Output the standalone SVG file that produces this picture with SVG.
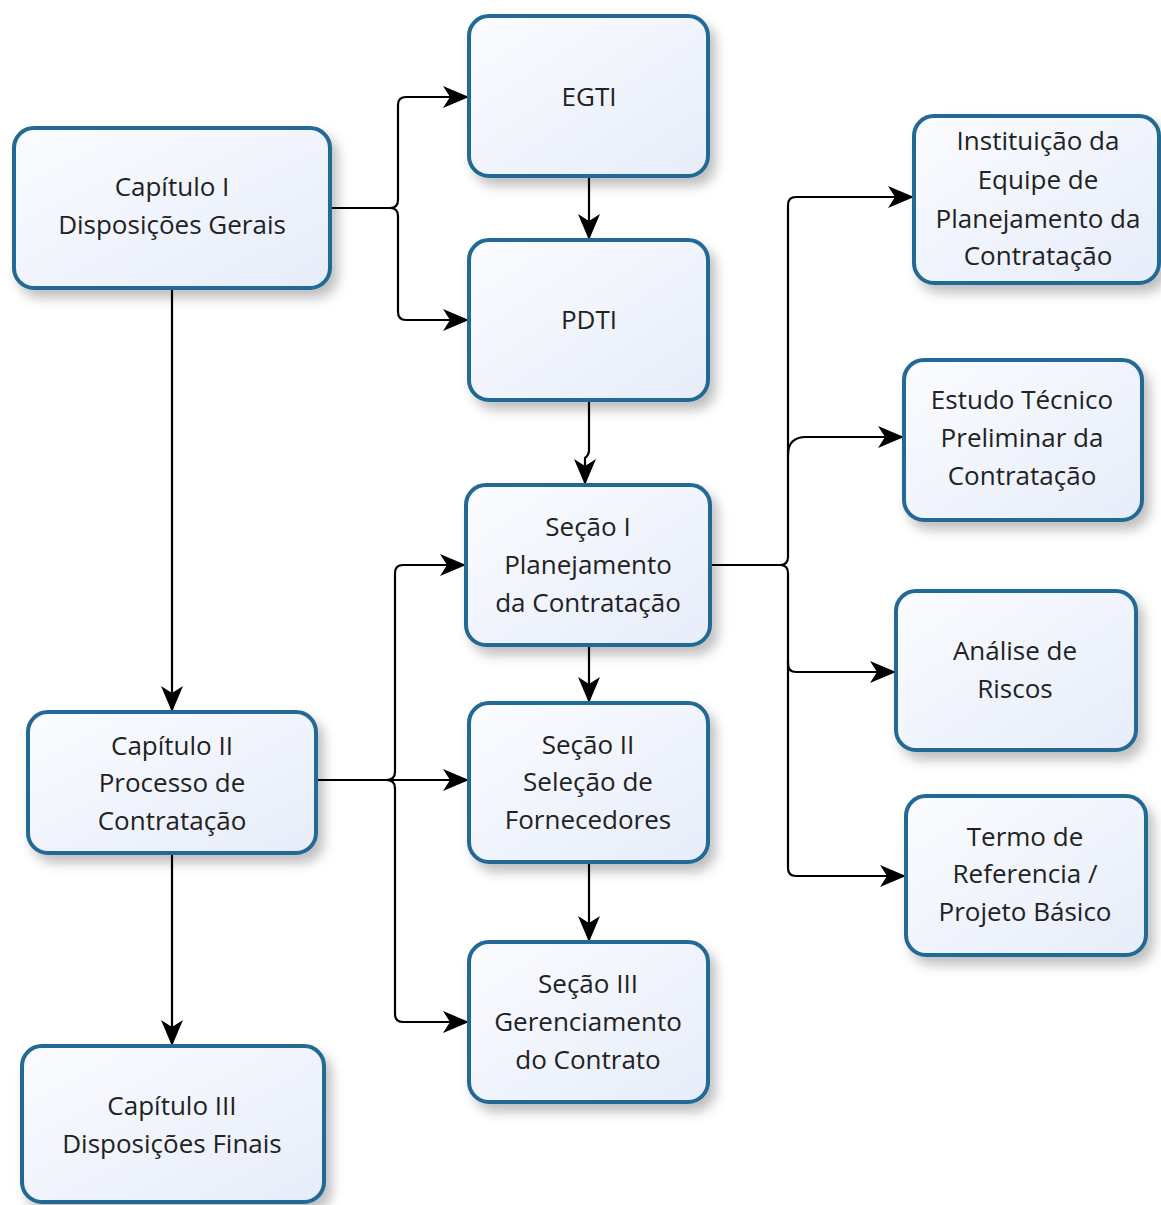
<svg xmlns="http://www.w3.org/2000/svg" width="1161" height="1205" viewBox="0 0 1161 1205">
<defs>
<linearGradient id="g" x1="0" y1="0" x2="1" y2="1">
<stop offset="0" stop-color="#fbfcff"/>
<stop offset="1" stop-color="#e6ecf9"/>
</linearGradient>
<filter id="sh" x="-10%" y="-10%" width="130%" height="140%">
<feDropShadow dx="6" dy="8" stdDeviation="6" flood-color="#000" flood-opacity="0.25"/>
</filter>
<marker id="ar" viewBox="0 0 26 22" refX="25" refY="11" markerWidth="26" markerHeight="22" markerUnits="userSpaceOnUse" orient="auto">
<path d="M0,0 L26,11 L0,22 L7,11 Z" fill="#000"/>
</marker>
</defs>
<style>
.n rect{fill:url(#g);stroke:#236a93;stroke-width:4;filter:url(#sh)}
.n text{font-family:"Open Sans","Noto Sans",sans-serif;font-size:26px;fill:#222;text-anchor:middle}
.c path{fill:none;stroke:#000;stroke-width:2.2}
.c .a{marker-end:url(#ar)}
</style>
<rect width="1161" height="1205" fill="#fff"/>
<g class="c">
<path d="M330,208 H390 Q398,208 398,200 V105 Q398,97 406,97 H468" class="a"/>
<path d="M390,208 Q398,208 398,216 V312 Q398,320 406,320 H468" class="a"/>
<path d="M589,176 V239" class="a"/>
<path d="M589,400 V450 Q589,455 585,458 V484" class="a"/>
<path d="M172,288 V711" class="a"/>
<path d="M589,645 V702" class="a"/>
<path d="M589,862 V941" class="a"/>
<path d="M172,853 V1045" class="a"/>
<path d="M316,780 H468" class="a"/>
<path d="M386,780 Q395,780 395,772 V573 Q395,565 403,565 H465" class="a"/>
<path d="M386,780 Q395,780 395,788 V1014 Q395,1022 403,1022 H468" class="a"/>
<path d="M710,565 H780 Q788,565 788,557 V205 Q788,197 796,197 H913" class="a"/>
<path d="M788,455 Q788,437 806,437 H903" class="a"/>
<path d="M780,565 Q788,565 788,573 V664 Q788,672 796,672 H895" class="a"/>
<path d="M788,660 V868 Q788,876 796,876 H905" class="a"/>
</g>
<g id="cap1" class="n"><rect x="14" y="128" width="316" height="160" rx="20"/><text x="172" y="196">Capítulo  I</text><text x="172" y="234">Disposições Gerais</text></g>
<g id="egti" class="n"><rect x="469" y="16" width="239" height="160" rx="20"/><text x="589" y="106">EGTI</text></g>
<g id="pdti" class="n"><rect x="469" y="240" width="239" height="160" rx="20"/><text x="589" y="329">PDTI</text></g>
<g id="sec1" class="n"><rect x="466" y="485" width="244" height="160" rx="20"/><text x="588" y="536">Seção I</text><text x="588" y="574">Planejamento</text><text x="588" y="612">da Contratação</text></g>
<g id="sec2" class="n"><rect x="469" y="703" width="239" height="159" rx="20"/><text x="588" y="754">Seção II</text><text x="588" y="791">Seleção de</text><text x="588" y="829">Fornecedores</text></g>
<g id="sec3" class="n"><rect x="469" y="942" width="239" height="160" rx="20"/><text x="588" y="993">Seção III</text><text x="588" y="1031">Gerenciamento</text><text x="588" y="1069">do Contrato</text></g>
<g id="cap2" class="n"><rect x="28" y="712" width="288" height="141" rx="20"/><text x="172" y="755">Capítulo II</text><text x="172" y="792">Processo de</text><text x="172" y="830">Contratação</text></g>
<g id="cap3" class="n"><rect x="22" y="1046" width="302" height="156" rx="20"/><text x="172" y="1115">Capítulo III</text><text x="172" y="1153">Disposições Finais</text></g>
<g id="inst" class="n"><rect x="914" y="116" width="245" height="167" rx="20"/><text x="1038" y="150">Instituição da</text><text x="1038" y="189">Equipe de</text><text x="1038" y="228">Planejamento da</text><text x="1038" y="265">Contratação</text></g>
<g id="etp" class="n"><rect x="904" y="360" width="238" height="160" rx="20"/><text x="1022" y="409">Estudo Técnico</text><text x="1022" y="447">Preliminar da</text><text x="1022" y="485">Contratação</text></g>
<g id="riscos" class="n"><rect x="896" y="591" width="240" height="159" rx="20"/><text x="1015" y="660">Análise de</text><text x="1015" y="698">Riscos</text></g>
<g id="termo" class="n"><rect x="906" y="796" width="240" height="159" rx="20"/><text x="1025" y="846">Termo de</text><text x="1025" y="883">Referencia /</text><text x="1025" y="921">Projeto Básico</text></g>
</svg>
